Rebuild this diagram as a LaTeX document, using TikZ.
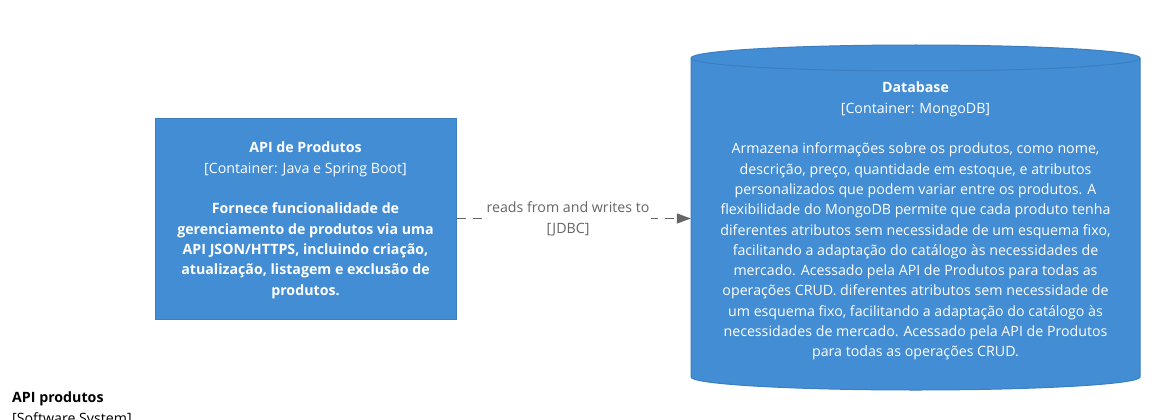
\documentclass[tikz,border=0pt]{standalone}
\usepackage{fontspec}
\setmainfont{Open Sans}
\usetikzlibrary{arrows.meta}
\definecolor{c4fill}{HTML}{438DD5}
\definecolor{c4line}{HTML}{3C7FC0}
\definecolor{relgray}{HTML}{666666}
\tikzset{
  x=1pt,y=1pt,
  boxtext/.style={text=white,align=center,font=\fontsize{14.2}{20.3}\selectfont,inner sep=0pt},
  rel/.style={draw=relgray,line width=1.4pt,dash pattern=on 9pt off 7pt,-{Triangle[length=14pt,width=10pt]}},
  rellabel/.style={fill=white,text=relgray,align=center,font=\fontsize{14.2}{20.3}\selectfont,inner sep=2pt},
}
\begin{document}
\begin{tikzpicture}
\useasboundingbox (0,0) rectangle (1156,-420);
% API box
\node[draw=c4line,fill=c4fill,line width=1pt,minimum width=301pt,minimum height=201pt,inner sep=0pt] (api) at (305.5,-218.5) {};
\node[boxtext,anchor=north] (apitxt) at (305.5,-142) {\textbf{API de Produtos}\\{[Container: Java e Spring Boot]}\\[20.3pt]
\textbf{Fornece funcionalidade de}\\\textbf{gerenciamento de produtos via uma}\\\textbf{API JSON/HTTPS, incluindo criação,}\\\textbf{atualização, listagem e exclusão de}\\\textbf{produtos.}};
% Database cylinder
\fill[c4fill] (691,-58) arc[start angle=180,end angle=0,x radius=224.5,y radius=13] -- (1140,-377) arc[start angle=0,end angle=-180,x radius=224.5,y radius=13] -- cycle;
\draw[c4line,line width=1pt] (691,-58) arc[start angle=180,end angle=0,x radius=224.5,y radius=13] -- (1140,-377) arc[start angle=0,end angle=-180,x radius=224.5,y radius=13] -- cycle;
\draw[c4line,line width=1pt] (691,-58) arc[start angle=180,end angle=360,x radius=224.5,y radius=13];
\node[inner sep=0pt,minimum width=449pt,minimum height=345pt] (db) at (915.5,-217.5) {};
\node[boxtext,anchor=north] (dbtxt) at (915.5,-82) {\textbf{Database}\\{[Container: MongoDB]}\\[20.3pt]
Armazena informações sobre os produtos, como nome,\\descrição, preço, quantidade em estoque, e atributos\\personalizados que podem variar entre os produtos. A\\flexibilidade do MongoDB permite que cada produto tenha\\diferentes atributos sem necessidade de um esquema fixo,\\facilitando a adaptação do catálogo às necessidades de\\mercado. Acessado pela API de Produtos para todas as\\operações CRUD. diferentes atributos sem necessidade de\\um esquema fixo, facilitando a adaptação do catálogo às\\necessidades de mercado. Acessado pela API de Produtos\\para todas as operações CRUD.};
% relation
\draw[rel] (api.east) -- (db.west |- api.east);
\node[rellabel] (lbl) at (568,-219) {reads from and writes to\\{[JDBC]}};
% boundary label
\node[anchor=north west,inner sep=0pt,align=left,font=\fontsize{14.2}{20.3}\selectfont] (sys) at (12,-392) {\textbf{API produtos}\\{[Software System]}};
\end{tikzpicture}
\end{document}
